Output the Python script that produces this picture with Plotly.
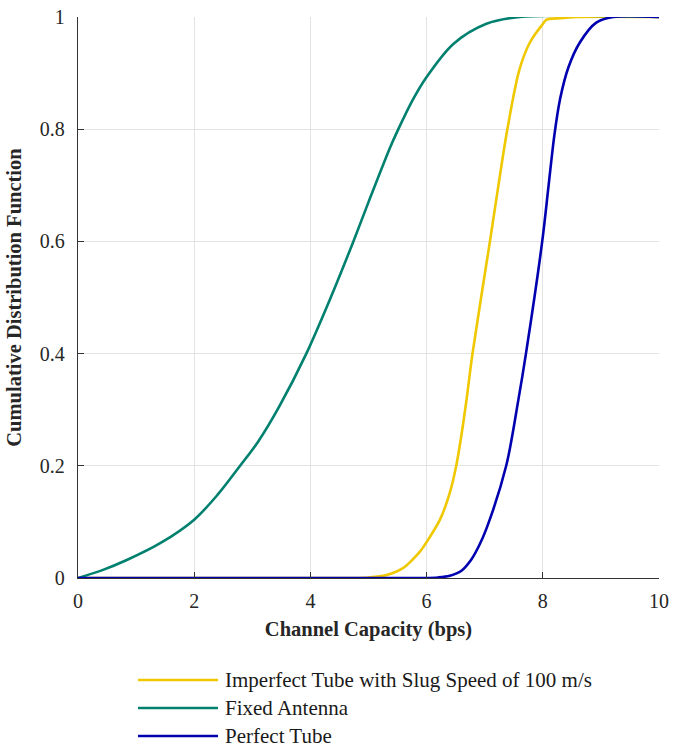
import plotly.graph_objects as go

series_names = ["Imperfect Tube with Slug Speed of 100 m/s", "Fixed Antenna", "Perfect Tube"]
series_colors = ["#F0C800", "#00806F", "#0000B0"]

imperfect_x = [0, 4.7, 5.0, 5.3, 5.6, 5.76, 5.885, 6.0, 6.23, 6.4, 6.51, 6.6, 6.69, 6.79, 7.09, 7.2, 7.39, 7.6, 7.78, 8.0, 8.06, 8.3, 8.58, 10]
imperfect_y = [0, 0, 0.001, 0.005, 0.018, 0.033, 0.047, 0.064, 0.104, 0.152, 0.2, 0.255, 0.32, 0.4, 0.6, 0.675, 0.8, 0.907, 0.955, 0.9875, 0.995, 0.998, 1, 1]

fixed_x = [0, 0.42, 0.84, 1.415, 2, 2.4, 2.79, 3.1, 3.46, 3.93, 4.35, 4.74, 5.0, 5.37, 5.5, 5.75, 6.0, 6.46, 7.03, 7.6, 10]
fixed_y = [0, 0.014, 0.032, 0.062, 0.104, 0.148, 0.2, 0.243, 0.305, 0.4, 0.5, 0.6, 0.67, 0.767, 0.797, 0.85, 0.893, 0.952, 0.988, 1.0, 1.0]

perfect_x = [0, 5.9, 6.2, 6.4, 6.6, 6.77, 6.9, 7.03, 7.37, 7.58, 7.71, 7.99, 8.1, 8.2, 8.3, 8.44, 8.64, 8.92, 9.21, 10]
perfect_y = [0, 0, 0.001, 0.004, 0.013, 0.033, 0.057, 0.088, 0.2, 0.318, 0.4, 0.6, 0.7, 0.79, 0.855, 0.91, 0.955, 0.99, 1, 1]

x_ticks = [0, 2, 4, 6, 8, 10]
y_ticks = [0, 0.2, 0.4, 0.6, 0.8, 1]
y_ticklabels = ["0", "0.2", "0.4", "0.6", "0.8", "1"]

FONT = "Liberation Serif"
W, H = 684, 748
ML, MR, MT, MB = 78, 25, 17, 170
PW, PH = W - ML - MR, H - MT - MB

def px_to_paper(px, py):
    return (px - ML) / PW, (H - MB - py) / PH

fig = go.Figure()
data = [(imperfect_x, imperfect_y), (fixed_x, fixed_y), (perfect_x, perfect_y)]
for (xs, ys), name, col in zip(data, series_names, series_colors):
    fig.add_trace(go.Scatter(x=xs, y=ys, mode="lines", name=name,
                             line=dict(color=col, width=2.6, shape="spline", smoothing=0.9),
                             showlegend=False, cliponaxis=False))

# custom legend (long line samples as in the reference)
legend_rows = [680, 708, 736]
for name, col, py in zip(series_names, series_colors, legend_rows):
    x0, y0 = px_to_paper(138, py)
    x1, _ = px_to_paper(218, py)
    fig.add_shape(type="line", xref="paper", yref="paper", x0=x0, x1=x1, y0=y0, y1=y0,
                  line=dict(color=col, width=2.6))
    tx, _ = px_to_paper(223, py)
    fig.add_annotation(xref="paper", yref="paper", x=tx, y=y0, text=name, showarrow=False,
                       xanchor="left", yanchor="middle",
                       font=dict(family=FONT, size=21, color="#1a1a1a"))

axis_common = dict(showline=True, linecolor="#333333", linewidth=1.3, mirror=False,
                   ticks="inside", ticklen=6, tickcolor="#333333", tickwidth=1.2,
                   showgrid=True, gridcolor="#E3E3E3", gridwidth=1, zeroline=False,
                   automargin=False,
                   tickfont=dict(family=FONT, size=20, color="#262626"))

fig.update_layout(
    width=W, height=H, margin=dict(l=ML, r=MR, t=MT, b=MB),
    paper_bgcolor="white", plot_bgcolor="white",
    font=dict(family=FONT),
    xaxis=dict(range=[0, 10], tickvals=x_ticks, ticklabelstandoff=5,
               title=dict(text="<b>Channel Capacity (bps)</b>", standoff=10,
                          font=dict(family=FONT, size=20.5, color="#262626")),
               **axis_common),
    yaxis=dict(range=[0, 1], tickvals=y_ticks, ticktext=y_ticklabels, ticklabelstandoff=8,
               title=dict(text="<b>Cumulative Distribution Function</b>", standoff=12,
                          font=dict(family=FONT, size=20.5, color="#262626")),
               **axis_common),
    showlegend=False,
)

fig.write_html("out.html")
